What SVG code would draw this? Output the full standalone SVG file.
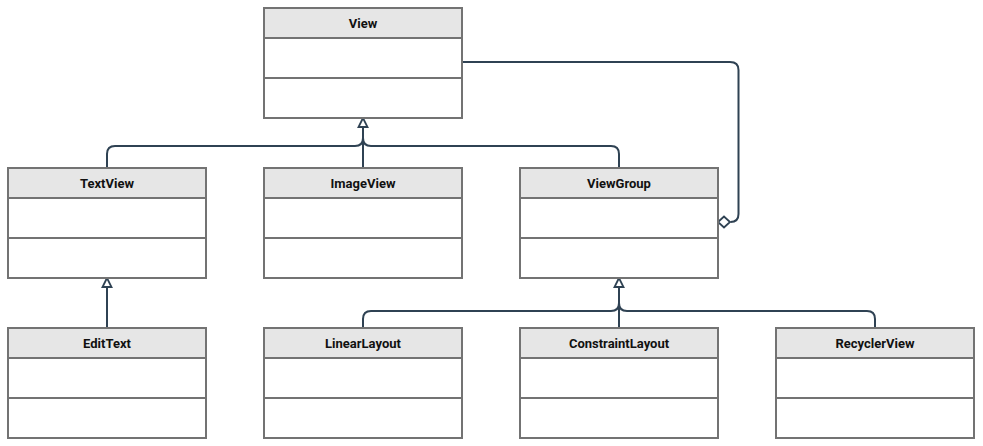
<svg xmlns="http://www.w3.org/2000/svg" width="983" height="446" viewBox="0 0 983 446">
<style>
.box rect{fill:#ffffff;stroke:#737373;stroke-width:2}
.box rect.hd{fill:#e6e6e6}
.box line{stroke:#737373;stroke-width:2}
.box text{font-family:Roboto,"Liberation Sans",sans-serif;font-weight:bold;font-size:13px;fill:#111;text-anchor:middle}
.conn path{fill:none;stroke:#2f4253;stroke-width:2}
.conn polygon{fill:#ffffff;stroke:#2f4253;stroke-width:1.8}
</style>
<rect width="983" height="446" fill="#ffffff"/>
<g class="conn" id="connectors">
<path d="M107,168 V154 Q107,146 115,146 H355 Q363,146 363,138 V127"/>
<path d="M619,168 V154 Q619,146 611,146 H371 Q363,146 363,138"/>
<path d="M363,168 V127"/>
<polygon points="363,118 358.5,127 367.5,127"/>
<path d="M107,328 V287"/>
<polygon points="107,278 102.5,287 111.5,287"/>
<path d="M363,328 V319 Q363,311 371,311 H611 Q619,311 619,303 V287"/>
<path d="M875,328 V319 Q875,311 867,311 H627 Q619,311 619,303"/>
<path d="M619,328 V287"/>
<polygon points="619,278 614.5,287 623.5,287"/>
<path d="M462,62 H730 Q738.5,62 738.5,70 V214 Q738.5,222 730.5,222"/>
<polygon points="718,222 724,216.5 730,222 724,227.5"/>
</g>
<g class="box" id="View"><rect x="264" y="8" width="198" height="110"/><rect class="hd" x="264" y="8" width="198" height="30"/><line x1="264" y1="78" x2="462" y2="78"/><text x="363" y="28">View</text></g>
<g class="box" id="TextView"><rect x="8" y="168" width="198" height="110"/><rect class="hd" x="8" y="168" width="198" height="30"/><line x1="8" y1="238" x2="206" y2="238"/><text x="107" y="188">TextView</text></g>
<g class="box" id="ImageView"><rect x="264" y="168" width="198" height="110"/><rect class="hd" x="264" y="168" width="198" height="30"/><line x1="264" y1="238" x2="462" y2="238"/><text x="363" y="188">ImageView</text></g>
<g class="box" id="ViewGroup"><rect x="520" y="168" width="198" height="110"/><rect class="hd" x="520" y="168" width="198" height="30"/><line x1="520" y1="238" x2="718" y2="238"/><text x="619" y="188">ViewGroup</text></g>
<g class="box" id="EditText"><rect x="8" y="328" width="198" height="110"/><rect class="hd" x="8" y="328" width="198" height="30"/><line x1="8" y1="398" x2="206" y2="398"/><text x="107" y="348">EditText</text></g>
<g class="box" id="LinearLayout"><rect x="264" y="328" width="198" height="110"/><rect class="hd" x="264" y="328" width="198" height="30"/><line x1="264" y1="398" x2="462" y2="398"/><text x="363" y="348">LinearLayout</text></g>
<g class="box" id="ConstraintLayout"><rect x="520" y="328" width="198" height="110"/><rect class="hd" x="520" y="328" width="198" height="30"/><line x1="520" y1="398" x2="718" y2="398"/><text x="619" y="348">ConstraintLayout</text></g>
<g class="box" id="RecyclerView"><rect x="776" y="328" width="198" height="110"/><rect class="hd" x="776" y="328" width="198" height="30"/><line x1="776" y1="398" x2="974" y2="398"/><text x="875" y="348">RecyclerView</text></g>
</svg>
